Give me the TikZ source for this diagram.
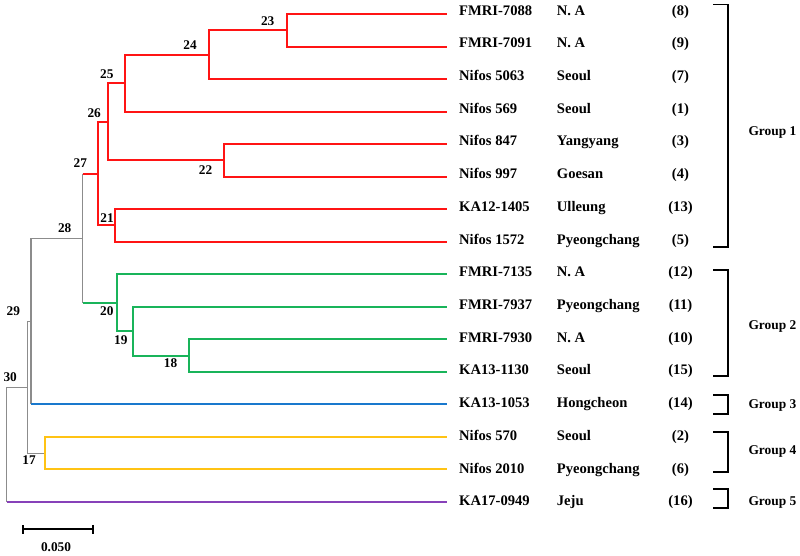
\documentclass[tikz,border=0pt]{standalone}
\usepackage{fontspec}
\setmainfont{Liberation Serif}
\usepackage{tikz}
\usetikzlibrary{arrows.meta}

\definecolor{cladered}{RGB}{255,20,20}
\definecolor{cladegreen}{RGB}{25,180,90}
\definecolor{cladeblue}{RGB}{25,120,205}
\definecolor{cladeyellow}{RGB}{255,195,20}
\definecolor{cladepurple}{RGB}{135,65,185}
\definecolor{stemgray}{RGB}{140,140,140}

\begin{document}
\begin{tikzpicture}[
    x=1pt, y=-1pt,
    branch/.style={line width=2pt},
    stem/.style={line width=1.3pt, draw=stemgray},
    strain/.style={anchor=base west, inner sep=0pt, font=\fontsize{14.6}{16}\selectfont\bfseries},
    place/.style={anchor=base west, inner sep=0pt, font=\fontsize{14.6}{16}\selectfont\bfseries},
    count/.style={anchor=base, inner sep=0pt, font=\fontsize{14.6}{16}\selectfont\bfseries},
    bootlab/.style={inner sep=0pt, font=\fontsize{13.3}{15}\selectfont\bfseries},
    grouplab/.style={anchor=base west, inner sep=0pt, font=\fontsize{13.4}{15}\selectfont\bfseries},
    bracket/.style={line width=1.8pt, black},
    scalebar/.style={line width=2pt, {Bar[width=9pt]}-{Bar[width=9pt]}}
]
\useasboundingbox (0,0) rectangle (800,555);

% Leaf tips
\coordinate (t1) at (447, 14);
\coordinate (t2) at (447, 46.5);
\coordinate (t3) at (447, 79.1);
\coordinate (t4) at (447, 111.6);
\coordinate (t5) at (447, 144.1);
\coordinate (t6) at (447, 176.7);
\coordinate (t7) at (447, 209.2);
\coordinate (t8) at (447, 241.7);
\coordinate (t9) at (447, 274.3);
\coordinate (t10) at (447, 306.8);
\coordinate (t11) at (447, 339.3);
\coordinate (t12) at (447, 371.8);
\coordinate (t13) at (447, 404.4);
\coordinate (t14) at (447, 436.9);
\coordinate (t15) at (447, 469.4);
\coordinate (t16) at (447, 502);

% Internal nodes
\coordinate (n23) at (287.3, 30.25);
\coordinate (n24) at (208.7, 54.7);
\coordinate (n25) at (124.7, 83.15);
\coordinate (n22) at (223.7, 160.4);
\coordinate (n26) at (108.3, 121.8);
\coordinate (n21) at (114.7, 225.45);
\coordinate (n27) at (98.3, 173.6);
\coordinate (n18) at (188.7, 355.55);
\coordinate (n19) at (132.7, 331.2);
\coordinate (n20) at (117, 302.75);
\coordinate (n28) at (82.7, 238.2);
\coordinate (n29) at (31, 321.3);
\coordinate (n17) at (45, 453.15);
\coordinate (n30) at (27.7, 387.2);
\coordinate (root) at (6.7, 444.6);

% Backbone
\draw[stem] (n28 |- n27) -- (n28 |- n20);
\draw[stem] (n29) |- (n28);
\draw[stem] (n29) -- (n29 |- t13);
\draw[stem] (n30) |- (n29);
\draw[stem] (n30) |- (n17);
\draw[stem] (root) |- (n30);
\draw[stem] (root) -- (root |- t16);

% Group 1
\draw[branch, cladered] (n28 |- n27) -- (n27);
\draw[branch, cladered] (n27) |- (n26);
\draw[branch, cladered] (n27) |- (n21);
\draw[branch, cladered] (n26) |- (n25);
\draw[branch, cladered] (n26) |- (n22);
\draw[branch, cladered] (n25) |- (n24);
\draw[branch, cladered] (n25) |- (t4);
\draw[branch, cladered] (n24) |- (n23);
\draw[branch, cladered] (n24) |- (t3);
\draw[branch, cladered] (n23) |- (t1);
\draw[branch, cladered] (n23) |- (t2);
\draw[branch, cladered] (n22) |- (t5);
\draw[branch, cladered] (n22) |- (t6);
\draw[branch, cladered] (n21) |- (t7);
\draw[branch, cladered] (n21) |- (t8);

% Group 2
\draw[branch, cladegreen] (n28 |- n20) -- (n20);
\draw[branch, cladegreen] (n20) |- (t9);
\draw[branch, cladegreen] (n20) |- (n19);
\draw[branch, cladegreen] (n19) |- (t10);
\draw[branch, cladegreen] (n19) |- (n18);
\draw[branch, cladegreen] (n18) |- (t11);
\draw[branch, cladegreen] (n18) |- (t12);

% Group 3, 4, 5
\draw[branch, cladeblue] (n29 |- t13) -- (t13);
\draw[branch, cladeyellow] (n17) |- (t14);
\draw[branch, cladeyellow] (n17) |- (t15);
\draw[branch, cladepurple] (root |- t16) -- (t16);

% Node numbers
\node[bootlab] (l23) at (267.7, 21) {23};
\node[bootlab] (l24) at (190, 45) {24};
\node[bootlab] (l25) at (106.8, 73.7) {25};
\node[bootlab] (l26) at (94.2, 113.2) {26};
\node[bootlab] (l27) at (80.3, 163.5) {27};
\node[bootlab] (l28) at (64.7, 227.7) {28};
\node[bootlab] (l22) at (205.5, 170) {22};
\node[bootlab] (l21) at (107, 217.8) {21};
\node[bootlab] (l29) at (13.3, 311.2) {29};
\node[bootlab] (l20) at (106.8, 311.3) {20};
\node[bootlab] (l19) at (120.8, 340.5) {19};
\node[bootlab] (l18) at (170.5, 363.5) {18};
\node[bootlab] (l30) at (10.2, 377.2) {30};
\node[bootlab] (l17) at (29, 460.5) {17};

% Strains
\node[strain] (s1) at (459, 15.1) {FMRI-7088};
\node[strain] (s2) at (459, 47.8) {FMRI-7091};
\node[strain] (s3) at (459, 80.5) {Nifos 5063};
\node[strain] (s4) at (459, 113.2) {Nifos 569};
\node[strain] (s5) at (459, 145.9) {Nifos 847};
\node[strain] (s6) at (459, 178.6) {Nifos 997};
\node[strain] (s7) at (459, 211.4) {KA12-1405};
\node[strain] (s8) at (459, 244.1) {Nifos 1572};
\node[strain] (s9) at (459, 276.8) {FMRI-7135};
\node[strain] (s10) at (459, 309.5) {FMRI-7937};
\node[strain] (s11) at (459, 342.2) {FMRI-7930};
\node[strain] (s12) at (459, 374.9) {KA13-1130};
\node[strain] (s13) at (459, 407.6) {KA13-1053};
\node[strain] (s14) at (459, 440.3) {Nifos 570};
\node[strain] (s15) at (459, 473) {Nifos 2010};
\node[strain] (s16) at (459, 505.7) {KA17-0949};

% Origins
\node[place] (p1) at (556.7, 15.1) {N. A};
\node[place] (p2) at (556.7, 47.8) {N. A};
\node[place] (p3) at (556.7, 80.5) {Seoul};
\node[place] (p4) at (556.7, 113.2) {Seoul};
\node[place] (p5) at (556.7, 145.9) {Yangyang};
\node[place] (p6) at (556.7, 178.6) {Goesan};
\node[place] (p7) at (556.7, 211.4) {Ulleung};
\node[place] (p8) at (556.7, 244.1) {Pyeongchang};
\node[place] (p9) at (556.7, 276.8) {N. A};
\node[place] (p10) at (556.7, 309.5) {Pyeongchang};
\node[place] (p11) at (556.7, 342.2) {N. A};
\node[place] (p12) at (556.7, 374.9) {Seoul};
\node[place] (p13) at (556.7, 407.6) {Hongcheon};
\node[place] (p14) at (556.7, 440.3) {Seoul};
\node[place] (p15) at (556.7, 473) {Pyeongchang};
\node[place] (p16) at (556.7, 505.7) {Jeju};

% Numbers
\node[count] (c1) at (680.5, 15.1) {(8)};
\node[count] (c2) at (680.5, 47.8) {(9)};
\node[count] (c3) at (680.5, 80.5) {(7)};
\node[count] (c4) at (680.5, 113.2) {(1)};
\node[count] (c5) at (680.5, 145.9) {(3)};
\node[count] (c6) at (680.5, 178.6) {(4)};
\node[count] (c7) at (680.5, 211.4) {(13)};
\node[count] (c8) at (680.5, 244.1) {(5)};
\node[count] (c9) at (680.5, 276.8) {(12)};
\node[count] (c10) at (680.5, 309.5) {(11)};
\node[count] (c11) at (680.5, 342.2) {(10)};
\node[count] (c12) at (680.5, 374.9) {(15)};
\node[count] (c13) at (680.5, 407.6) {(14)};
\node[count] (c14) at (680.5, 440.3) {(2)};
\node[count] (c15) at (680.5, 473) {(6)};
\node[count] (c16) at (680.5, 505.7) {(16)};

% Brackets
\draw[bracket] (713, 4.5) -- (728.3, 4.5) -- (728.3, 246.7) -- (713, 246.7);
\draw[bracket] (713, 270) -- (728.3, 270) -- (728.3, 375.7) -- (713, 375.7);
\draw[bracket] (713, 395) -- (728.3, 395) -- (728.3, 414) -- (713, 414);
\draw[bracket] (713, 432.3) -- (728.3, 432.3) -- (728.3, 472.3) -- (713, 472.3);
\draw[bracket] (713, 489.3) -- (728.3, 489.3) -- (728.3, 508.3) -- (713, 508.3);

\node[grouplab] (g1) at (748.3, 135) {Group 1};
\node[grouplab] (g2) at (748.3, 329.5) {Group 2};
\node[grouplab] (g3) at (748.3, 408.5) {Group 3};
\node[grouplab] (g4) at (748.3, 454) {Group 4};
\node[grouplab] (g5) at (748.3, 505) {Group 5};

% Scale
\draw[scalebar] (22.3, 529.3) -- (94, 529.3);
\node[bootlab] (scale) at (56, 546.7) {0.050};

\end{tikzpicture}
\end{document}
